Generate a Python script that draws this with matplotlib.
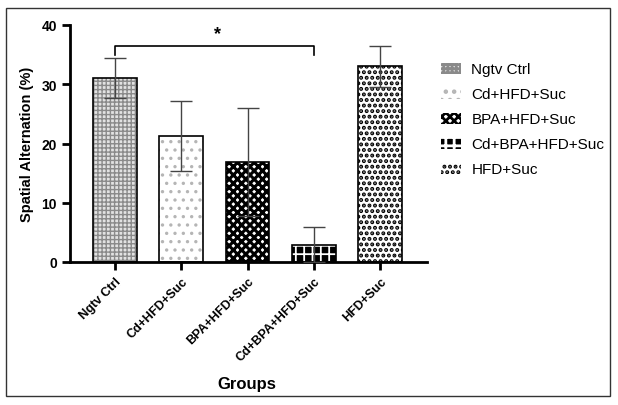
import matplotlib.pyplot as plt
import matplotlib.patches as mpatches
import numpy as np

plt.rcParams['font.family'] = ['Liberation Sans', 'DejaVu Sans']

# data
groups = ['Ngtv Ctrl', 'Cd+HFD+Suc', 'BPA+HFD+Suc', 'Cd+BPA+HFD+Suc', 'HFD+Suc']
means = [31.0, 21.2, 16.9, 2.9, 33.1]
err_up = [3.5, 5.9, 9.1, 2.95, 3.4]
err_dn = [3.3, 5.8, 9.1, 2.9, 3.5]

faces = ['#e2e2e2', 'white', 'white', 'black', 'white']
hatch_cols = ['#8a8a8a', '#b5b5b5', 'black', 'white', 'black']
hatches = ['++++', '..', 'xxxx', '++', '...']
hatch_lw = [1.0, 1.2, 2.2, 1.3, 2.0]

fig = plt.figure(figsize=(6.18, 4.06), dpi=100)
ax = fig.add_axes([70 / 618, 1 - 263 / 406, 357 / 618, 237 / 406])

x = np.arange(len(groups))
handles = []
for i in range(len(groups)):
    plt.rcParams['hatch.linewidth'] = hatch_lw[i]
    ax.bar(x[i], means[i], width=0.66, color=faces[i], hatch=hatches[i],
           edgecolor=hatch_cols[i], linewidth=0, zorder=2)
    # black outline
    ax.bar(x[i], means[i], width=0.66, fill=False, edgecolor='black', linewidth=1.2, zorder=3)
    handles.append(mpatches.Patch(facecolor=faces[i], hatch=hatches[i],
                                  edgecolor=hatch_cols[i], linewidth=0, label=groups[i]))

ax.errorbar(x, means, yerr=[err_dn, err_up], fmt='none', ecolor='#444444',
            elinewidth=1.0, capsize=8, capthick=1.0, zorder=4)

# significance bracket
y_br = 36.5
ax.plot([0, 0, 3, 3], [35.0, y_br, y_br, 35.0], color='black', lw=1.2, zorder=5, clip_on=False)
ax.text(1.55, 38.6, '*', ha='center', va='center', fontsize=13, fontweight='bold')

ax.set_xlim(-0.68, 4.71)
ax.set_ylim(0, 40)
ax.set_yticks([0, 10, 20, 30, 40])
ax.set_xticks(x)
ax.set_xticklabels(groups, rotation=45, ha='right', rotation_mode='anchor',
                   fontsize=9, fontweight='bold')
for lab in ax.get_yticklabels():
    lab.set_fontweight('bold')
    lab.set_fontsize(10)
ax.spines['top'].set_visible(False)
ax.spines['right'].set_visible(False)
ax.spines['left'].set_linewidth(2)
ax.spines['bottom'].set_linewidth(2)
ax.tick_params(width=2, length=6, direction='out')
ax.set_ylabel('Spatial Alternation (%)', fontsize=10.5, fontweight='bold', labelpad=5)
fig.text(247 / 618, 1 - 385 / 406, 'Groups', ha='center', va='center',
         fontsize=12, fontweight='bold')

ax.legend(handles=handles, loc='upper left', bbox_to_anchor=(1.0, 0.9),
          frameon=False, fontsize=11, handlelength=1.3, handleheight=0.75,
          labelspacing=0.72, handletextpad=0.7)

# outer frame
fig.patches.append(mpatches.Rectangle((6 / 618, 9 / 406), 604 / 618, 388 / 406,
                                      transform=fig.transFigure, fill=False,
                                      edgecolor='#333333', linewidth=1))

plt.savefig('out.png', dpi=100)
